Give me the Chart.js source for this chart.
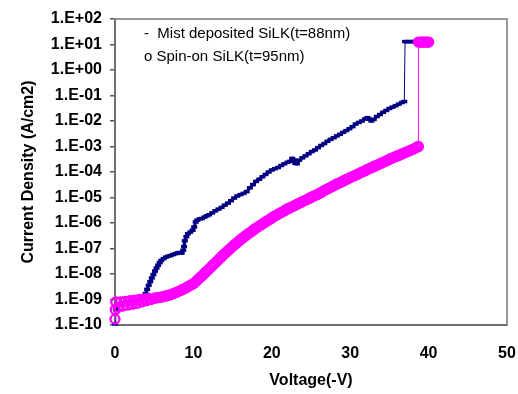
<!DOCTYPE html>
<html lang="en">
<head>
  <meta charset="UTF-8">
  <title>Current Density vs Voltage - SiLK</title>
  <script src="https://cdn.jsdelivr.net/npm/chart.js"></script>
  <style>
    html, body { margin: 0; padding: 0; background: #fff; }
  </style>
</head>
<body>
  <canvas id="chart" width="518" height="394"></canvas>

  <script>
    // Mist deposited SiLK (t=88nm) - voltage (-V) and current density (A/cm2)
    const mistVoltage = [
      0.0, 0.1, 0.3, 0.6, 1.0, 1.4, 1.8, 2.2, 2.6, 3.0,
      3.4, 3.7, 3.9, 4.1, 4.3, 4.5, 4.7, 4.9, 5.1, 5.3,
      5.5, 5.7, 5.9, 6.2, 6.5, 6.8, 7.1, 7.4, 7.7, 8.0,
      8.3, 8.5, 8.7, 8.8, 8.9, 9.1, 9.3, 9.6, 9.9, 10.1,
      10.3, 10.5, 10.8, 11.1, 11.4, 11.7, 12.0, 12.4, 12.8, 13.2,
      13.6, 14.0, 14.4, 14.8, 15.2, 15.6, 16.0, 16.4, 16.8, 17.2,
      17.6, 18.0, 18.4, 18.8, 19.2, 19.6, 20.0, 20.4, 20.8, 21.2,
      21.6, 22.0, 22.3, 22.6, 22.8, 23.0, 23.2, 23.5, 23.9, 24.3,
      24.7, 25.1, 25.5, 25.9, 26.3, 26.7, 27.1, 27.5, 27.9, 28.3,
      28.7, 29.1, 29.5, 29.9, 30.3, 30.7, 31.1, 31.5, 31.9, 32.2,
      32.4, 32.7, 33.0, 33.4, 33.8, 34.2, 34.6, 35.0, 35.4, 35.8,
      36.2, 36.6, 36.9, 37.0, 37.3, 37.6, 37.9, 38.2, 38.5
    ];
    const mistCurrent = [
      1.1e-10, 4.0e-10, 6.5e-10, 7.0e-10, 7.5e-10, 8.0e-10, 8.5e-10, 9.0e-10, 9.5e-10, 1.0e-9,
      1.1e-9, 1.3e-9, 1.7e-9, 2.5e-9, 3.6e-9, 5.0e-9, 7.0e-9, 9.5e-9, 1.3e-8, 1.7e-8,
      2.2e-8, 2.8e-8, 3.4e-8, 4.0e-8, 4.6e-8, 5.0e-8, 5.3e-8, 5.8e-8, 6.2e-8, 6.8e-8,
      7.0e-8, 6.6e-8, 8.5e-8, 1.2e-7, 2.0e-7, 2.9e-7, 3.8e-7, 4.4e-7, 5.2e-7, 7.0e-7,
      1.1e-6, 1.3e-6, 1.45e-6, 1.5e-6, 1.7e-6, 1.9e-6, 2.1e-6, 2.5e-6, 3.0e-6, 3.5e-6,
      4.1e-6, 5.0e-6, 6.0e-6, 7.5e-6, 9.5e-6, 1.15e-5, 1.3e-5, 1.45e-5, 1.7e-5, 2.4e-5,
      3.2e-5, 4.3e-5, 5.2e-5, 6.5e-5, 8.0e-5, 1.0e-4, 1.2e-4, 1.35e-4, 1.5e-4, 1.8e-4,
      2.1e-4, 2.4e-4, 2.6e-4, 3.4e-4, 3.0e-4, 2.2e-4, 2.1e-4, 2.9e-4, 3.6e-4, 4.3e-4,
      5.2e-4, 6.3e-4, 7.3e-4, 9.0e-4, 1.1e-3, 1.3e-3, 1.6e-3, 1.9e-3, 2.2e-3, 2.6e-3,
      3.0e-3, 3.6e-3, 4.2e-3, 5.0e-3, 6.0e-3, 7.6e-3, 8.8e-3, 1.0e-2, 1.2e-2, 1.35e-2,
      1.2e-2, 1.0e-2, 1.15e-2, 1.5e-2, 1.8e-2, 2.2e-2, 2.6e-2, 3.1e-2, 3.5e-2, 4.0e-2,
      4.6e-2, 5.3e-2, 5.8e-2, 13, 13, 13, 13, 13, 13
    ];

    // Spin-on SiLK (t=95nm)
    const spinVoltage = [
      0.0, 0.03, 0.1, 0.4, 0.7, 1.0, 1.3, 1.6, 1.9, 2.2,
      2.5, 2.8, 3.1, 3.4, 3.7, 4.0, 4.3, 4.6, 5.0, 5.25,
      5.5, 5.75, 6.0, 6.25, 6.5, 6.75, 7.0, 7.25, 7.5, 7.75,
      8.0, 8.25, 8.5, 8.75, 9.0, 9.25, 9.5, 9.75, 10.0, 10.25,
      10.5, 10.75, 11.0, 11.25, 11.5, 11.75, 12.0, 12.25, 12.5, 12.75,
      13.0, 13.25, 13.5, 13.75, 14.0, 14.25, 14.5, 14.75, 15.0, 15.25,
      15.5, 15.75, 16.0, 16.25, 16.5, 16.75, 17.0, 17.25, 17.5, 17.75,
      18.0, 18.25, 18.5, 18.75, 19.0, 19.25, 19.5, 19.75, 20.0, 20.25,
      20.5, 20.75, 21.0, 21.25, 21.5, 21.75, 22.0, 22.25, 22.5, 22.75,
      23.0, 23.25, 23.5, 23.75, 24.0, 24.25, 24.5, 24.75, 25.0, 25.25,
      25.5, 25.75, 26.0, 26.25, 26.5, 26.75, 27.0, 27.25, 27.5, 27.75,
      28.0, 28.25, 28.5, 28.75, 29.0, 29.25, 29.5, 29.75, 30.0, 30.25,
      30.5, 30.75, 31.0, 31.25, 31.5, 31.75, 32.0, 32.25, 32.5, 32.75,
      33.0, 33.25, 33.5, 33.75, 34.0, 34.25, 34.5, 34.75, 35.0, 35.25,
      35.5, 35.75, 36.0, 36.25, 36.5, 36.75, 37.0, 37.25, 37.5, 37.75,
      38.0, 38.25, 38.5, 38.7, 38.7, 38.9, 39.1, 39.3, 39.5, 39.7,
      39.9, 40.0
    ];
    const spinCurrent = [
      1.7e-10, 4.0e-10, 8.0e-10, 5.0e-10, 8.0e-10, 5.5e-10, 8.5e-10, 6.0e-10, 9.0e-10, 6.5e-10,
      9.5e-10, 7.0e-10, 1.0e-9, 8.0e-10, 1.05e-9, 9.0e-10, 1.1e-9, 1.0e-9, 1.12e-9, 1.15e-9,
      1.19e-9, 1.22e-9, 1.26e-9, 1.32e-9, 1.38e-9, 1.45e-9, 1.51e-9, 1.62e-9, 1.74e-9, 1.86e-9,
      2.00e-9, 2.19e-9, 2.37e-9, 2.57e-9, 2.82e-9, 3.10e-9, 3.43e-9, 3.80e-9, 4.17e-9, 4.90e-9,
      5.75e-9, 6.76e-9, 7.94e-9, 9.44e-9, 1.12e-8, 1.33e-8, 1.58e-8, 1.88e-8, 2.24e-8, 2.66e-8,
      3.16e-8, 3.76e-8, 4.47e-8, 5.31e-8, 6.31e-8, 7.41e-8, 8.71e-8, 1.02e-7, 1.20e-7, 1.40e-7,
      1.62e-7, 1.88e-7, 2.19e-7, 2.51e-7, 2.88e-7, 3.31e-7, 3.80e-7, 4.32e-7, 4.90e-7, 5.56e-7,
      6.31e-7, 7.08e-7, 7.94e-7, 8.91e-7, 1.00e-6, 1.12e-6, 1.26e-6, 1.41e-6, 1.58e-6, 1.76e-6,
      1.95e-6, 2.16e-6, 2.40e-6, 2.63e-6, 2.92e-6, 3.24e-6, 3.55e-6, 3.89e-6, 4.22e-6, 4.57e-6,
      5.01e-6, 5.50e-6, 5.96e-6, 6.46e-6, 7.08e-6, 7.76e-6, 8.41e-6, 9.12e-6, 1.00e-5, 1.10e-5,
      1.19e-5, 1.29e-5, 1.41e-5, 1.55e-5, 1.72e-5, 1.91e-5, 2.09e-5, 2.29e-5, 2.51e-5, 2.75e-5,
      3.02e-5, 3.31e-5, 3.59e-5, 3.89e-5, 4.27e-5, 4.68e-5, 5.07e-5, 5.50e-5, 6.03e-5, 6.53e-5,
      7.08e-5, 7.67e-5, 8.32e-5, 9.12e-5, 9.89e-5, 1.07e-4, 1.17e-4, 1.27e-4, 1.38e-4, 1.50e-4,
      1.62e-4, 1.76e-4, 1.91e-4, 2.07e-4, 2.24e-4, 2.45e-4, 2.66e-4, 2.88e-4, 3.16e-4, 3.39e-4,
      3.67e-4, 3.98e-4, 4.27e-4, 4.57e-4, 4.95e-4, 5.37e-4, 5.75e-4, 6.17e-4, 6.68e-4, 7.24e-4,
      7.76e-4, 8.51e-4, 9.33e-4, 1.00e-3, 12.5, 12.5, 12.5, 12.5, 12.5, 12.5,
      12.5, 12.5
    ];

    const xTicks = [0, 10, 20, 30, 40, 50];
    const yTicks = [1e-10, 1e-9, 1e-8, 1e-7, 1e-6, 1e-5, 1e-4, 1e-3, 1e-2, 1e-1, 1e0, 1e1, 1e2];
    const yTickLabels = ['1.E-10', '1.E-09', '1.E-08', '1.E-07', '1.E-06', '1.E-05', '1.E-04',
                         '1.E-03', '1.E-02', '1.E-01', '1.E+00', '1.E+01', '1.E+02'];
    const legendLines = ['-  Mist deposited SiLK(t=88nm)', 'o Spin-on SiLK(t=95nm)'];

    const FONT = "'Liberation Sans', Arial, sans-serif";

    function toPoints(xs, ys) {
      return xs.map((x, i) => ({ x: x, y: ys[i] }));
    }

    // plot frame + the text legend in the top-left corner
    const framePlugin = {
      id: 'frame',
      beforeDatasetsDraw(chart) {
        const { ctx, chartArea: a } = chart;
        ctx.save();
        ctx.lineWidth = 2;
        ctx.strokeStyle = '#9a9a9a';
        ctx.strokeRect(a.left, a.top, a.right - a.left, a.bottom - a.top);
        ctx.strokeStyle = '#707070';
        ctx.beginPath();
        ctx.moveTo(a.left, a.top);
        ctx.lineTo(a.left, a.bottom);
        ctx.lineTo(a.right, a.bottom);
        ctx.stroke();
        ctx.restore();
      },
      afterDraw(chart) {
        const { ctx, chartArea: a } = chart;
        ctx.save();
        ctx.font = '15px ' + FONT;
        ctx.fillStyle = '#000';
        ctx.textBaseline = 'middle';
        legendLines.forEach((t, i) => ctx.fillText(t, a.left + 29, a.top + 15 + i * 23));
        ctx.restore();
      }
    };

    // thin connector for the big vertical jumps, thick for the running curve
    const jumpWidth = (thin, thick) => (c) => Math.abs(c.p1.y - c.p0.y) > 8 ? thin : thick;

    new Chart(document.getElementById('chart'), {
      type: 'scatter',
      data: {
        datasets: [
          {
            label: 'Spin-on SiLK(t=95nm)',
            data: toPoints(spinVoltage, spinCurrent),
            showLine: true,
            borderColor: '#FF00FF',
            borderWidth: 1,
            pointStyle: 'circle',
            pointRadius: 4.5,
            pointBorderWidth: 2.3,
            pointBorderColor: '#FF00FF',
            pointBackgroundColor: 'rgba(0,0,0,0)',
            clip: false,
            order: 0
          },
          {
            label: 'Mist deposited SiLK(t=88nm)',
            data: toPoints(mistVoltage, mistCurrent),
            showLine: true,
            borderColor: '#000080',
            borderWidth: 3,
            segment: { borderWidth: jumpWidth(1, 3) },
            pointStyle: 'line',
            pointRadius: 3,
            pointBorderWidth: 3.5,
            pointBorderColor: '#000080',
            clip: false,
            order: 1
          }
        ]
      },
      options: {
        responsive: false,
        animation: false,
        events: [],
        layout: { padding: { top: 19, right: 11, left: 0, bottom: 0 } },
        plugins: { legend: { display: false }, tooltip: { enabled: false } },
        scales: {
          x: {
            type: 'linear',
            min: 0,
            max: 50,
            afterBuildTicks: (axis) => { axis.ticks = xTicks.map(v => ({ value: v })); },
            afterFit: (axis) => { axis.height = 69; axis.paddingLeft = 0; axis.paddingRight = 0; },
            grid: { display: false },
            border: { display: false },
            ticks: { color: '#000', padding: 11, maxRotation: 0, font: { family: FONT, size: 16, weight: 'bold' } },
            title: { display: true, text: 'Voltage(-V)', color: '#000', padding: { top: 0, bottom: 4 },
                     font: { family: FONT, size: 16, weight: 'bold' } }
          },
          y: {
            type: 'logarithmic',
            min: 1e-10,
            max: 1e2,
            afterBuildTicks: (axis) => { axis.ticks = yTicks.map(v => ({ value: v })); },
            afterFit: (axis) => { axis.width = 115; },
            grid: { drawOnChartArea: false, drawTicks: true, tickLength: 5, color: '#555', lineWidth: 1.5 },
            border: { display: false },
            ticks: {
              color: '#000', padding: 8, autoSkip: false,
              font: { family: FONT, size: 16, weight: 'bold' },
              callback: (v, i) => yTickLabels[i]
            },
            title: { display: true, text: 'Current Density (A/cm2)', color: '#000', padding: { top: 19, bottom: 0 },
                     font: { family: FONT, size: 16, weight: 'bold' } }
          }
        }
      },
      plugins: [framePlugin]
    });
  </script>
</body>
</html>
